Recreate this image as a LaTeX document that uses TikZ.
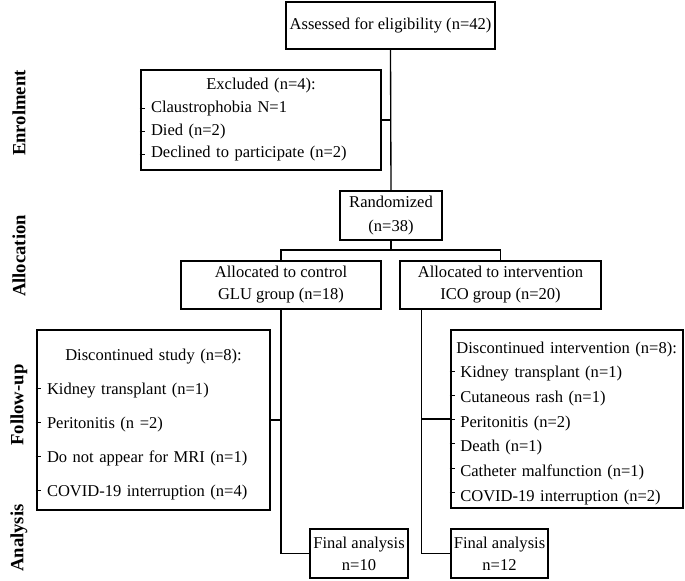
\documentclass[tikz,border=0pt]{standalone}
\usepackage{fontspec}
\setmainfont{Liberation Serif}

\begin{document}
\begin{tikzpicture}
  [x=0.75pt,y=-0.75pt,line width=1pt,
   every node/.style={draw,rectangle,inner sep=1.5pt,align=center,
     font=\fontsize{12.4}{16.5}\selectfont},
   listbox/.style={align=left,inner xsep=7.5pt},
   phase/.style={draw=none,rotate=90,font=\fontsize{14}{16}\selectfont\bfseries},
   tick/.style={line width=0.7pt}]
  \useasboundingbox (0,0) rectangle (685,581);

  \node (assess) at (390.5,25.5) [minimum width=156.75pt,minimum height=35.25pt] {Assessed for eligibility (n=42)};
  \node (excl) at (261,120) [listbox,text width=165pt,minimum height=75pt,
    font=\fontsize{12.4}{17}\selectfont]
    {\makebox[\linewidth]{Excluded (n=4):}\\ Claustrophobia N=1\\ Died (n=2)\\ Declined to participate (n=2)};
  \node (rand) at (391,215.5) [minimum width=76.5pt,minimum height=36.75pt,
    font=\fontsize{12.4}{18}\selectfont] {Randomized\\ (n=38)};
  \node (ctrl) at (281,285) [minimum width=150pt,minimum height=36pt] {Allocated to control\\ GLU group (n=18)};
  \node (intv) at (500.5,285) [minimum width=150.75pt,minimum height=36pt] {Allocated to intervention\\ ICO group (n=20)};
  \node (disc1) at (153.5,420) [listbox,text width=159.75pt,minimum height=135pt,
    font=\fontsize{12.4}{25.5}\selectfont]
    {\rule{0pt}{15pt}\makebox[\linewidth]{Discontinued study (n=8):}\\ Kidney transplant (n=1)\\ Peritonitis (n =2)\\
     Do not appear for MRI (n=1)\\ COVID-19 interruption (n=4)};
  \node (disc2) at (567,419) [listbox,inner xsep=4pt,text width=166pt,minimum height=133.5pt,
    font=\fontsize{12.4}{18.5}\selectfont]
    {\rule{0pt}{15pt}Discontinued intervention (n=8):\\ \hspace*{3pt}Kidney transplant (n=1)\\ \hspace*{3pt}Cutaneous rash (n=1)\\
     \hspace*{3pt}Peritonitis (n=2)\\ \hspace*{3pt}Death (n=1)\\ \hspace*{3pt}Catheter malfunction (n=1)\\
     \hspace*{3pt}COVID-19 interruption (n=2)};
  \node (fin1) at (359,553.5) [minimum width=73.5pt,minimum height=36.75pt] {Final analysis\\ n=10};
  \node (fin2) at (499.5,553.5) [minimum width=72.75pt,minimum height=36.75pt] {Final analysis\\ n=12};

  \node (enrol) at (19,113) [phase] {Enrolment};
  \node (alloc) at (19,256) [phase] {Allocation};
  \node (follow) at (19,405) [phase] {Follow-up};
  \node (anal) at (19,538) [phase] {Analysis};

  \coordinate (split) at (391,250);
  \coordinate (ivdown) at ([xshift=16.5pt]intv.south west);

  \draw (assess.south) -- (rand.north);
  \draw (excl.east) -- (excl.east -| rand.north);
  \draw (rand.south) -- (split);
  \draw (ctrl.north) |- (split) -| (intv.north);
  \draw (ctrl.south) |- (fin1.west);
  \draw (disc1.east) -- (disc1.east -| ctrl.south);
  \draw (ivdown) |- (fin2.west);
  \draw (disc2.west) -- (disc2.west -| ivdown);

  % list ticks
  \foreach \y in {108,131,154}
    \draw[tick] (139.5,\y) -- ++(5,0);
  \foreach \y in {388,422,456,490}
    \draw[tick] (35.5,\y) -- ++(5,0);
  \foreach \y in {371,395,419,443,468,492}
    \draw[tick] (449.5,\y) -- ++(5,0);

\end{tikzpicture}
\end{document}
